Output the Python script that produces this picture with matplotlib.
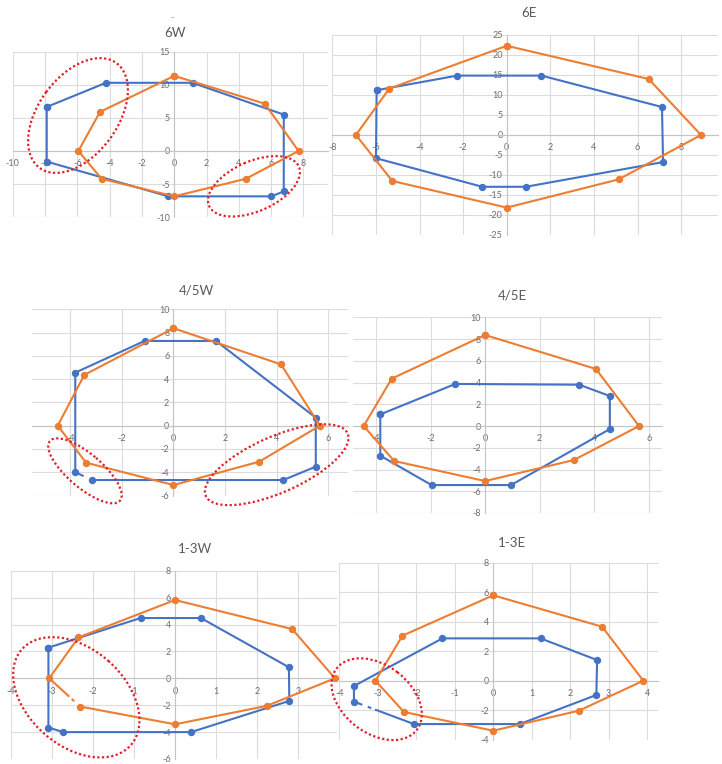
import matplotlib
matplotlib.use("Agg")
import matplotlib.pyplot as plt
from matplotlib.ticker import MultipleLocator, FuncFormatter
from matplotlib.patches import Ellipse

plt.rcParams['font.family'] = ['Lato', 'DejaVu Sans']
plt.rcParams['axes.unicode_minus'] = False

# ---------------- data ----------------
titles = ["6W", "6E", "4/5W", "4/5E", "1-3W", "1-3E"]

w6_blue_x = [-7.9, -4.23, 1.13, 6.78, 6.78, 6.02, -0.37, -7.9]
w6_blue_y = [6.65, 10.3, 10.3, 5.5, -6.1, -6.85, -6.85, -1.6]
w6_orange_x = [0, 5.6, 7.7, 4.43, 0, -4.5, -5.94, -4.6]
w6_orange_y = [11.35, 7.15, 0, -4.2, -6.85, -4.2, 0, 5.9]

e6_blue_x = [-5.97, -2.27, 1.59, 7.12, 7.17, 0.87, -1.12, -6.0]
e6_blue_y = [11.2, 14.85, 14.85, 7.0, -6.77, -12.95, -12.95, -5.8]
e6_orange_x = [0, 6.51, 8.91, 5.13, 0, -5.25, -6.92, -5.39]
e6_orange_y = [22.3, 14.0, 0, -11.1, -18.15, -11.5, 0, 11.6]

w45_blue_x = [-3.81, -1.12, 1.65, 5.52, 5.52, 4.26, -3.16, -3.81]
w45_blue_y = [4.56, 7.28, 7.28, 0.69, -3.52, -4.67, -4.67, -4.0]
w45_orange_x = [0, 4.17, 5.68, 3.33, 0, -3.39, -4.49, -3.46]
w45_orange_y = [8.37, 5.27, 0, -3.09, -5.1, -3.18, 0, 4.36]

e45_blue_x = [-3.84, -1.09, 3.45, 4.57, 4.57, 0.95, -1.96, -3.84]
e45_blue_y = [1.07, 3.87, 3.8, 2.76, -0.28, -5.43, -5.43, -2.73]
e45_orange_x = [0, 4.06, 5.64, 3.25, 0, -3.33, -4.45, -3.42]
e45_orange_y = [8.37, 5.25, 0, -3.13, -5.06, -3.22, 0, 4.36]

w13_blue_x = [-3.08, -0.84, 0.63, 2.77, 2.78, 0.39, -2.72, -3.08]
w13_blue_y = [2.28, 4.48, 4.48, 0.82, -1.68, -4.0, -4.0, -3.66]
w13_orange_x = [0, 2.85, 3.89, 2.23, 0, -2.31, -3.06, -2.35]
w13_orange_y = [5.82, 3.66, 0, -2.05, -3.42, -2.1, 0, 3.04]

e13_blue_x = [-3.62, -1.32, 1.23, 2.7, 2.68, 0.69, -2.06, -3.62]
e13_blue_y = [-0.36, 2.87, 2.87, 1.4, -0.97, -2.94, -2.94, -1.42]
e13_orange_x = [0, 2.83, 3.9, 2.23, 0, -2.32, -3.06, -2.36]
e13_orange_y = [5.79, 3.66, 0, -2.03, -3.39, -2.12, 0, 3.05]

# ---------------- layout / style ----------------
W, H = 722, 764
BLUE = '#4472C4'
ORANGE = '#ED7D31'
GRID = '#DCDCDC'
AXIS = '#C4C4C4'
TXT = '#6E6E6E'
TITLE = '#595959'
RED = '#E0202A'

# panel: pixel box (L, R, T, B), xlim, ylim, x major, y major, title pos
panels = [
    dict(box=(12.8, 328, 51.7, 217.2), xlim=(-10, 9.52), ylim=(-10, 15), xm=2, ym=5, tp=(175, 33),
         series=[(w6_blue_x, w6_blue_y, BLUE, None), (w6_orange_x, w6_orange_y, ORANGE, None)]),
    dict(box=(332.4, 718, 35, 235), xlim=(-8, 9.69), ylim=(-25, 25), xm=2, ym=5, tp=(529, 13),
         series=[(e6_blue_x, e6_blue_y, BLUE, None), (e6_orange_x, e6_orange_y, ORANGE, None)]),
    dict(box=(31.7, 348, 309.3, 495.5), xlim=(-5.5, 6.77), ylim=(-6, 10), xm=2, ym=2, tp=(196, 290),
         series=[(w45_blue_x, w45_blue_y, BLUE, (6, [(0.5, 1.0)])),
                 (w45_orange_x, w45_orange_y, ORANGE, None)]),
    dict(box=(353, 661.7, 317.3, 513), xlim=(-4.84, 6.47), ylim=(-8, 10), xm=2, ym=2, tp=(512, 295),
         series=[(e45_blue_x, e45_blue_y, BLUE, None), (e45_orange_x, e45_orange_y, ORANGE, None)]),
    dict(box=(10.6, 337, 570.7, 759), xlim=(-4, 3.94), ylim=(-6, 8), xm=1, ym=2, tp=(195, 549),
         series=[(w13_blue_x, w13_blue_y, BLUE, None),
                 (w13_orange_x, w13_orange_y, ORANGE, (5, [(0.19, 0.27), (0.35, 1.0)]))]),
    dict(box=(339.3, 658.3, 562.7, 739.7), xlim=(-4, 4.29), ylim=(-4, 8), xm=1, ym=2, tp=(512, 543),
         series=[(e13_blue_x, e13_blue_y, BLUE, (6, [(0, 0.65), (0.71, 0.77), (0.86, 1.0)])),
                 (e13_orange_x, e13_orange_y, ORANGE, None)]),
]

fig = plt.figure(figsize=(W / 100, H / 100), dpi=100)
fig.patch.set_facecolor('white')

fmt = FuncFormatter(lambda v, p: f"{v:.0f}" if abs(v) > 1e-9 else "0")
LW = 1.5
MS = 4.3

for title, pnl in zip(titles, panels):
    L, R, T, B = pnl['box']
    ax = fig.add_axes([L / W, 1 - B / H, (R - L) / W, (B - T) / H])
    ax.set_xlim(*pnl['xlim'])
    ax.set_ylim(*pnl['ylim'])
    ax.xaxis.set_major_locator(MultipleLocator(pnl['xm']))
    ax.yaxis.set_major_locator(MultipleLocator(pnl['ym']))
    ax.xaxis.set_major_formatter(fmt)
    ax.yaxis.set_major_formatter(fmt)
    ax.grid(True, color=GRID, lw=0.8)
    ax.set_axisbelow(True)
    for s in ['top', 'right']:
        ax.spines[s].set_visible(False)
    ax.spines['left'].set_position(('data', 0))
    ax.spines['bottom'].set_position(('data', 0))
    ax.spines['left'].set_color(AXIS)
    ax.spines['bottom'].set_color(AXIS)
    ax.spines['left'].set_linewidth(0.8)
    ax.spines['bottom'].set_linewidth(0.8)
    ax.tick_params(axis='x', length=0, pad=6, labelsize=6.5, labelcolor=TXT)
    ax.tick_params(axis='y', length=0, pad=3, labelsize=6.5, labelcolor=TXT)

    for xs, ys, col, gap in pnl['series']:
        n = len(xs)
        g = gap[0] if gap else n - 1
        order = [(g + 1 + k) % n for k in range(n)]
        if not gap:
            order = order + [order[0]]
        ax.plot([xs[i] for i in order], [ys[i] for i in order], color=col, lw=LW,
                marker='o', ms=MS, clip_on=False, zorder=3, solid_joinstyle='round')
        if gap:
            x0, y0 = xs[g], ys[g]
            x1, y1 = xs[(g + 1) % n], ys[(g + 1) % n]
            for t0, t1 in gap[1]:
                ax.plot([x0 + t0 * (x1 - x0), x0 + t1 * (x1 - x0)],
                        [y0 + t0 * (y1 - y0), y0 + t1 * (y1 - y0)],
                        color=col, lw=LW, solid_capstyle='butt', clip_on=False, zorder=3)

    tx, ty = pnl['tp']
    fig.text(tx / W, 1 - ty / H, title, ha='center', va='center', fontsize=9.5, color=TITLE)

fig.text(172 / W, 1 - 18 / H, "-", ha='center', va='center', fontsize=7, color='#9A9A9A')

# overlay for red dotted highlight ellipses (pixel coordinates)
ov = fig.add_axes([0, 0, 1, 1], zorder=10)
ov.set_xlim(0, W)
ov.set_ylim(H, 0)
ov.axis('off')
ov.patch.set_alpha(0)
ellipses = [
    (78, 115.5, 130, 79, -53.8),
    (254, 186.3, 98, 50, -23.7),
    (85, 470.8, 92, 34, 40.4),
    (276.7, 464.7, 155, 56, -23.8),
    (76.3, 697.3, 145, 97, 41.3),
    (376.7, 699.2, 101, 68, 37.4),
]
for cx, cy, ew, eh, ang in ellipses:
    ov.add_patch(Ellipse((cx, cy), ew, eh, angle=ang, fill=False, ec=RED, lw=1.6,
                         linestyle=(0, (1, 1.1))))

fig.savefig("out.png", dpi=100)
